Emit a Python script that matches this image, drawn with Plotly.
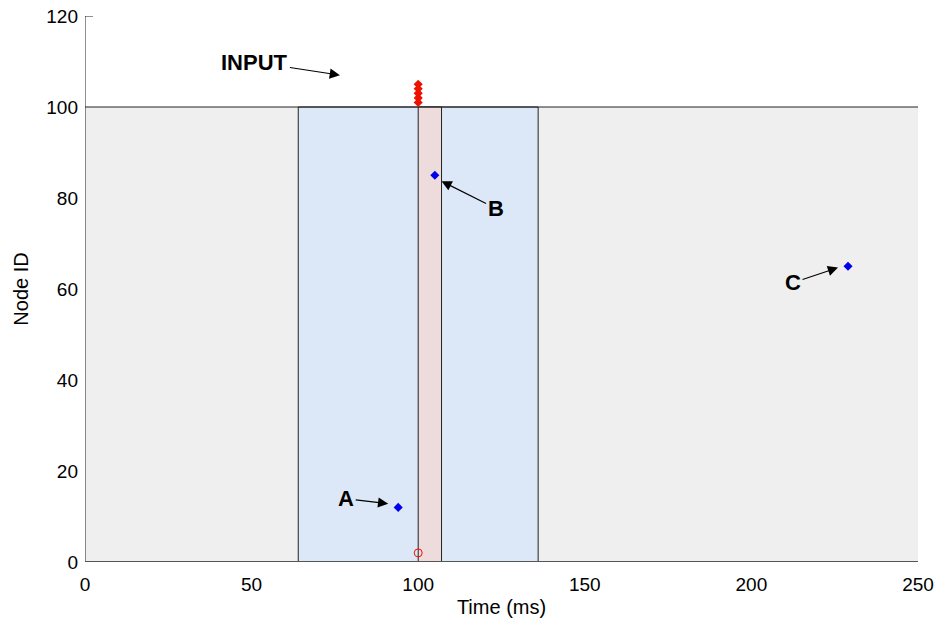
import plotly.graph_objects as go

# Time windows (ms) and node range
node_max = 100
baseline_window = [0, 250]
response_window = [64, 136]
stim_window = [100, 107]

# Input spikes delivered at t=100 ms
input_times = [100, 100, 100, 100, 100]
input_nodes = [101, 102, 103, 104, 105]

# Stimulated node
stim_time = [100]
stim_node = [2]

# Labelled output spikes
spike_labels = ["A", "B", "C"]
spike_times = [94, 105, 229]
spike_nodes = [12, 85, 65]

x_ticks = [0, 50, 100, 150, 200, 250]
y_ticks = [0, 20, 40, 60, 80, 100, 120]

sans = "Liberation Sans, Arial, Helvetica"

fig = go.Figure()

shapes = [
    dict(type="rect", x0=baseline_window[0], x1=baseline_window[1], y0=0, y1=node_max,
         fillcolor="#efefef", line=dict(width=0), layer="below"),
    dict(type="rect", x0=response_window[0], x1=response_window[1], y0=0, y1=node_max,
         fillcolor="#dce8f7", line=dict(color="#222", width=1), layer="below"),
    dict(type="rect", x0=stim_window[0], x1=stim_window[1], y0=0, y1=node_max,
         fillcolor="#eedcdc", line=dict(color="#222", width=1), layer="below"),
    dict(type="line", x0=baseline_window[0], x1=baseline_window[1], y0=node_max, y1=node_max,
         line=dict(color="#222", width=1), layer="below"),
    dict(type="line", x0=0, x1=0, y0=0, y1=120, line=dict(color="#222", width=1)),
    dict(type="line", x0=0, x1=2.4, y0=120, y1=120, line=dict(color="#222", width=1)),
    dict(type="line", x0=0, x1=250, y0=0, y1=0, line=dict(color="#555", width=2)),
]

fig.add_trace(go.Scatter(
    x=input_times, y=input_nodes, mode="markers",
    marker=dict(symbol="diamond", size=7, color="#ee1100"),
    showlegend=False, hoverinfo="x+y"))

fig.add_trace(go.Scatter(
    x=stim_time, y=stim_node, mode="markers",
    marker=dict(symbol="circle-open", size=8, color="#ee1100", line=dict(width=1)),
    showlegend=False, hoverinfo="x+y"))

fig.add_trace(go.Scatter(
    x=spike_times, y=spike_nodes, mode="markers",
    marker=dict(symbol="diamond", size=7, color="#0000ee"),
    text=spike_labels, showlegend=False, hoverinfo="text+x+y"))

label_font = dict(family=sans, size=22, color="black")
arrow_style = dict(showarrow=True, arrowhead=2, arrowsize=1.7, arrowwidth=1.2,
                   arrowcolor="black", axref="pixel", ayref="pixel", xref="x", yref="y",
                   font=label_font)

annotations = [
    dict(x=76.5, y=107, text="<b>INPUT</b>", ax=-85, ay=-13, standoff=0, **arrow_style),
    dict(x=spike_times[0] - 3, y=spike_nodes[0] + 0.8, text="<b>A</b>", ax=-42, ay=-5, **arrow_style),
    dict(x=spike_times[1] + 2, y=spike_nodes[1] - 1.3, text="<b>B</b>", ax=54, ay=27, **arrow_style),
    dict(x=spike_times[2] - 3, y=spike_nodes[2] - 0.3, text="<b>C</b>", ax=-45, ay=15, **arrow_style),
]

fig.update_layout(
    width=939, height=632,
    margin=dict(l=85, r=21, t=16, b=70),
    paper_bgcolor="white", plot_bgcolor="white",
    font=dict(family=sans, size=19, color="black"),
    shapes=shapes, annotations=annotations,
    xaxis=dict(range=[0, 250], tickvals=x_ticks, showgrid=False, zeroline=False,
               showline=False, ticks="", automargin=False, ticklabelstandoff=9,
               tickfont=dict(family=sans, size=19),
               title=dict(text="Time (ms)", standoff=5, font=dict(family=sans, size=20)),
               fixedrange=True),
    yaxis=dict(range=[0, 120], tickvals=y_ticks, showgrid=False, zeroline=False,
               showline=False, ticks="", automargin=False, ticklabelstandoff=6,
               tickfont=dict(family=sans, size=19),
               title=dict(text="Node ID", standoff=12, font=dict(family=sans, size=20)),
               fixedrange=True),
)

fig.write_html("out.html")
